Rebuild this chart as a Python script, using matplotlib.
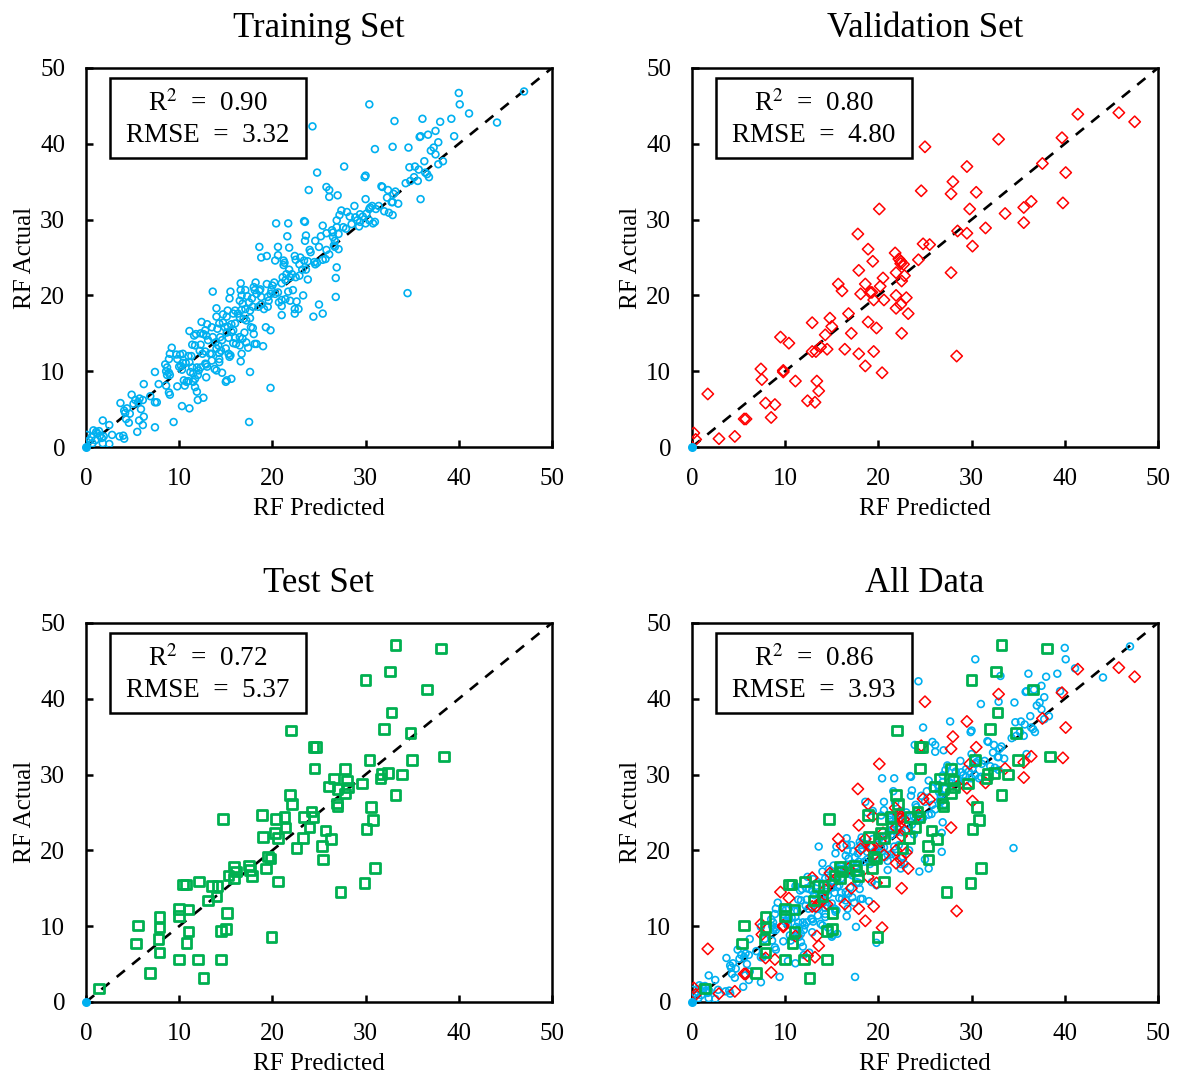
import matplotlib.pyplot as plt
from matplotlib.patches import Rectangle

plt.rcParams['font.family'] = ['Liberation Serif', 'DejaVu Serif']
plt.rcParams['mathtext.fontset'] = 'stix'

# ---- data (predicted, actual) ----
train_pred = [40.0, 40.1, 41.1, 39.2, 39.5, 47.0, 44.1, 30.4, 24.3, 33.1, 36.1, 38.0, 37.5, 36.7, 35.8, 35.9,
              37.8, 37.3, 37.0, 37.5, 38.3, 37.8, 36.3, 32.9, 34.6, 31.0, 27.7, 24.8, 34.7, 35.3, 35.7, 36.4,
              36.6, 36.8, 35.2, 35.6, 34.8, 34.3, 30.0, 29.9, 31.7, 31.8, 23.9, 25.8, 26.1, 26.1, 27.0, 32.4,
              33.2, 33.0, 35.9,
              32.3, 32.8, 33.5, 32.9, 30.0, 28.8, 31.4, 30.7, 30.5, 30.4, 31.1, 32.0, 32.5, 32.9, 27.4, 28.0,
              27.2, 26.9, 28.3, 28.9, 29.4, 29.7, 30.1, 29.1, 29.4, 28.5, 29.3, 30.0, 30.4, 30.8, 31.0, 27.6,
              27.9, 26.9, 26.5, 27.1, 25.4, 25.8, 26.4, 20.4, 21.7, 23.4, 23.5, 23.6, 23.5, 21.6, 24.6, 25.2,
              26.5, 26.7, 26.6, 27.1, 26.7, 25.8, 26.1, 25.0,
              18.6, 20.6, 19.4, 18.8, 20.6, 20.3, 21.8, 22.4, 22.5, 23.0, 22.9, 23.4, 23.8, 24.0, 24.1, 24.5,
              24.8, 24.6, 25.7, 25.4, 21.2, 21.3, 21.2, 21.8, 21.5, 21.1, 21.0, 21.4, 21.9, 22.1, 22.5, 22.9,
              23.8, 23.2, 23.6, 26.9, 26.8, 26.8, 23.3, 22.2, 21.7, 21.9, 22.6, 21.0, 20.7, 21.4, 20.0, 20.2,
              19.4, 19.9, 20.6, 20.3, 19.5, 19.8, 18.2, 18.0, 18.1, 18.6, 18.7, 18.3, 18.8, 17.8, 17.3, 17.5,
              17.1, 16.6, 16.6, 16.7, 17.1, 15.5, 15.4, 13.6, 21.0, 22.4, 22.8, 22.4, 25.0, 25.4, 24.4, 21.0,
              19.6, 19.5, 19.1, 18.5, 18.8, 17.9, 17.6, 16.5, 16.8, 16.7, 16.3, 16.0, 15.8, 15.2, 14.7, 15.1,
              14.0, 14.0, 14.3, 14.1, 13.5, 14.7, 14.9, 15.2, 15.6, 16.0, 15.8, 16.5, 16.9, 17.2, 17.6, 17.7,
              17.9, 18.0, 17.0, 16.8, 17.2, 17.4, 16.5, 19.3, 19.8, 19.0, 18.1, 18.3, 15.8, 16.1, 16.5, 16.0,
              15.3, 15.6, 15.1, 14.4, 14.6, 13.9, 14.2, 13.6, 13.1, 12.9, 12.6, 12.8, 12.3, 12.4, 13.0, 11.8,
              11.7, 11.1, 11.6, 12.3, 12.5, 12.8, 12.2, 13.5, 14.0, 14.5, 14.3, 15.0, 15.3, 15.4, 15.5, 14.3,
              14.3, 13.3, 13.5, 12.8, 12.9, 13.0, 12.3, 11.4, 11.3, 10.4, 10.1, 9.7, 9.8, 9.2, 9.0, 8.9,
              10.4, 10.7, 10.2, 10.0, 11.1, 11.0, 16.6, 16.7, 17.6, 19.8, 17.5,
              8.5, 8.7, 8.6, 8.9, 9.0, 8.7, 7.4, 7.8, 8.6, 9.8, 8.9, 9.0, 10.3, 11.2, 11.0, 11.5, 11.7, 12.0,
              12.1, 11.9, 11.4, 10.5, 10.8, 10.6, 11.5, 11.7, 11.9, 12.0, 11.1, 10.3, 12.6, 12.9, 14.6, 15.0,
              15.1, 15.6, 13.8, 14.0, 6.2, 4.9, 5.3, 5.75, 5.6, 6.1, 5.1, 3.7, 4.1, 4.4, 4.2, 4.7, 4.6, 4.3,
              5.9, 6.2, 5.7, 6.1, 6.9, 7.4, 7.6, 7.4, 5.5, 9.4, 4.0, 4.1, 3.6, 1.8, 2.5, 2.8,
              1.7, 1.5, 0.8, 1.1, 1.2, 0.6, 0.4, 1.0, 0.1, 0.0, 0.7, 2.5, 1.8, 1.9, 1.4, 34.5]
train_act = [46.7, 45.2, 44.0, 43.3, 41.0, 46.9, 42.8, 45.2, 42.3, 43.0, 43.3, 42.9, 41.7, 41.2, 40.9, 41.0,
             40.2, 39.5, 39.1, 38.6, 37.7, 37.3, 37.7, 39.6, 39.5, 39.3, 37.0, 36.2, 36.9, 37.0, 36.6, 36.2,
             36.0, 35.6, 35.6, 35.1, 35.1, 34.8, 35.8, 35.6, 34.4, 34.3, 33.9, 34.3, 33.9, 33.0, 33.2, 33.9,
             33.7, 33.4, 32.7,
             32.9, 32.3, 32.1, 32.3, 32.7, 31.8, 31.8, 31.8, 31.6, 31.4, 31.4, 31.1, 30.9, 30.6, 31.2, 31.0,
             30.6, 29.9, 30.4, 30.3, 30.7, 30.4, 30.8, 29.9, 29.7, 29.4, 29.1, 29.5, 29.9, 29.5, 29.7, 29.0,
             28.8, 29.0, 28.3, 28.1, 29.2, 28.2, 28.6, 29.5, 29.5, 29.8, 29.7, 27.9, 27.2, 27.8, 27.2, 27.8,
             27.7, 27.2, 26.6, 26.1, 26.4, 26.0, 25.4, 26.4,
             26.4, 26.4, 25.2, 25.0, 25.3, 24.6, 26.3, 25.2, 24.7, 25.0, 24.1, 24.6, 24.5, 26.0, 25.7, 24.4,
             24.3, 24.1, 24.8, 24.7, 24.6, 24.3, 24.0, 23.4, 22.8, 22.4, 21.6, 22.0, 22.4, 22.8, 22.4, 22.6,
             22.1, 23.4, 23.4, 23.7, 22.3, 19.8, 20.0, 20.7, 20.5, 19.3, 19.2, 19.4, 19.1, 19.5, 21.3, 21.7,
             21.5, 20.7, 20.4, 20.2, 19.8, 20.2, 21.7, 21.1, 20.7, 20.6, 20.8, 20.2, 19.8, 19.6, 19.9, 19.1,
             18.2, 21.6, 20.7, 20.0, 20.7, 20.5, 19.6, 20.5, 18.6, 18.2, 18.2, 17.6, 18.8, 17.6, 17.2, 17.4,
             19.3, 18.5, 18.2, 18.5, 18.8, 18.5, 18.0, 19.3, 18.9, 18.1, 17.6, 18.0, 17.6, 18.0, 17.5, 17.2,
             18.3, 17.2, 16.3, 15.6, 15.8, 16.4, 15.8, 15.9, 16.2, 16.3, 15.4, 17.1, 16.9, 16.7, 17.0, 15.8,
             15.7, 14.9, 15.1, 14.3, 13.8, 13.1, 14.5, 15.8, 15.4, 13.3, 13.6, 13.6, 13.7, 13.6, 13.4, 14.4,
             14.4, 15.2, 15.1, 14.5, 14.1, 13.8, 13.4, 14.5, 14.1, 14.7, 14.9, 15.4, 15.0, 16.5, 16.2, 14.9,
             13.4, 15.3, 14.7, 13.5, 12.3, 12.6, 12.7, 12.3, 13.0, 12.7, 12.4, 13.0, 12.3, 11.9, 12.1, 11.6,
             11.2, 12.3, 11.4, 11.0, 10.9, 10.6, 10.5, 13.5, 12.0, 12.3, 12.2, 12.2, 11.6, 13.1, 12.3, 11.6,
             11.1, 11.1, 10.7, 10.6, 11.2, 12.0, 11.3, 12.3, 9.9, 7.8, 3.3,
             10.9, 10.5, 10.0, 9.8, 9.5, 9.5, 9.9, 8.3, 8.1, 8.0, 7.2, 6.9, 10.2, 9.9, 8.7, 9.7, 9.0, 9.5,
             10.1, 10.5, 10.5, 8.8, 8.6, 8.1, 8.6, 7.9, 7.3, 6.2, 5.1, 5.4, 6.5, 9.2, 9.8, 8.6,
             8.8, 9.0, 10.3, 10.1, 8.3, 6.9, 6.2, 6.4, 5.9, 6.2, 5.7, 5.8, 4.8, 5.1, 4.5, 4.4, 3.2, 3.7,
             5.0, 4.0, 3.5, 2.9, 6.7, 5.9, 5.9, 2.6, 2.0, 3.3, 1.5, 1.1, 1.4, 3.5, 2.9, 1.6,
             1.2, 1.5, 2.2, 2.0, 1.8, 1.3, 0.9, 0.9, 1.6, 0.4, 0.5, 0.4, 0.5, 1.4, 2.1, 20.3]

val_pred = [0.2, 0.4, 2.9, 4.6, 1.7, 5.6, 5.8, 8.5, 7.9, 8.9, 7.4, 7.5, 9.5, 9.8, 9.8, 10.4, 11.1, 12.4,
            13.2, 13.4, 13.6, 12.9, 12.9, 13.3, 13.8, 14.5, 14.3, 14.8, 15.0, 15.7, 16.1, 16.8, 17.1, 16.4,
            17.9, 18.6, 17.8, 18.9, 19.4, 17.9, 18.6, 18.1, 19.1, 19.3, 19.5, 18.9, 19.8, 19.5, 20.4, 20.1,
            20.2, 20.5, 20.6, 21.8, 22.2, 22.4, 22.7, 22.4, 21.9, 22.8, 22.5, 21.9, 23.0, 21.9, 22.4, 23.2,
            22.5, 24.3, 24.8, 25.5, 24.6, 25.0, 27.8, 28.0, 28.5, 27.8, 28.4, 29.5, 29.8, 29.5, 30.1, 30.5,
            31.5, 32.9, 33.6, 35.6, 35.6, 36.4, 37.6, 39.7, 40.1, 39.8, 41.4, 45.8, 47.5]
val_act = [1.85, 1.0, 1.1, 1.4, 7.0, 3.7, 3.7, 3.9, 5.8, 5.6, 10.3, 8.9, 14.5, 10.1, 9.9, 13.7, 8.7, 6.1,
           5.9, 8.7, 7.4, 16.4, 12.6, 12.6, 13.2, 12.9, 14.8, 17.0, 15.9, 21.5, 20.6, 17.6, 15.0, 12.9,
           12.3, 10.7, 28.1, 26.1, 24.5, 23.3, 21.5, 20.2, 20.4, 20.4, 19.4, 16.5, 15.7, 12.6, 9.8, 31.4,
           21.2, 22.3, 19.4, 25.6, 24.8, 24.2, 24.1, 24.5, 23.0, 22.6, 21.9, 20.0, 19.7, 18.3, 18.8, 17.6,
           15.0, 24.7, 26.8, 26.7, 33.8, 39.6, 33.4, 35.0, 28.5, 23.0, 12.0, 37.0, 31.4, 28.2, 26.5, 33.6,
           28.9, 40.6, 30.8, 31.6, 29.6, 32.4, 37.4, 40.8, 36.2, 32.2, 43.9, 44.1, 42.9]

test_pred = [1.4, 5.6, 5.4, 6.9, 7.9, 7.9, 7.8, 7.9, 10.0, 10.0, 11.0, 11.0, 10.8, 10.0, 10.4, 10.7, 12.1,
             12.0, 12.6, 13.1, 13.5, 14.1, 14.0, 15.1, 14.5, 15.0, 14.5, 14.7, 15.3, 15.9, 16.1, 15.9, 17.5,
             17.6, 17.8, 18.9, 19.0, 19.5, 19.8, 19.3, 19.9, 20.6, 20.3, 20.6, 20.4, 21.3, 21.4, 21.9, 22.1,
             22.0, 22.6, 23.3, 23.4, 24.4, 24.2, 24.0, 24.4, 24.7, 24.5, 25.7, 25.3, 25.4, 26.3, 26.1, 26.6,
             27.0, 26.9, 27.0, 27.8, 28.0, 27.8, 28.1, 27.3, 29.6, 30.0, 30.4, 30.1, 30.6, 30.8, 29.9, 31.0,
             31.6, 31.7, 32.4, 32.0, 32.6, 33.2, 32.8, 33.2, 33.9, 34.8, 35.0, 36.6, 38.1, 38.4]
test_act = [1.8, 10.1, 7.7, 3.8, 11.2, 9.8, 8.3, 6.5, 12.3, 11.3, 12.2, 9.3, 7.8, 5.6, 15.5, 15.5, 15.9,
            5.6, 3.2, 13.4, 15.3, 15.3, 13.9, 11.7, 9.4, 9.6, 5.6, 24.1, 16.7, 17.8, 17.2, 16.3, 18.0,
            17.4, 16.6, 24.7, 21.8, 19.2, 18.9, 17.6, 8.6, 15.9, 22.3, 21.6, 24.1, 24.4, 23.0, 27.3, 26.1,
            35.8, 20.3, 21.6, 24.4, 24.4, 25.1, 23.0, 33.6, 33.6, 30.8, 22.6, 20.6, 18.8, 21.5, 28.4, 29.5,
            28.1, 26.2, 25.8, 30.7, 29.2, 27.5, 28.3, 14.5, 28.8, 42.5, 31.9, 22.8, 25.7, 24.0, 15.7, 17.7,
            29.5, 30.1, 30.2, 36.0, 43.6, 47.1, 38.2, 27.3, 30.0, 35.5, 31.9, 41.2, 46.6, 32.4]

titles = ['Training Set', 'Validation Set', 'Test Set', 'All Data']
r2_vals = ['0.90', '0.80', '0.72', '0.86']
rmse_vals = ['3.32', '4.80', '5.37', '3.93']

blue = '#00B0F0'
red = '#FF0000'
green = '#00B050'

fig = plt.figure(figsize=(11.81, 10.79), dpi=100)
w, h = 0.3946, 0.3513
positions = [(0.0728, 0.5857), (0.5859, 0.5857), (0.0728, 0.0714), (0.5859, 0.0714)]


def draw_train(ax):
    ax.scatter(train_pred, train_act, s=24, facecolors='none', edgecolors=blue, linewidths=1.2, zorder=3)


def draw_val(ax):
    ax.scatter(val_pred, val_act, s=34, marker='D', facecolors='none', edgecolors=red, linewidths=1.1, zorder=3)


def draw_test(ax):
    ax.scatter(test_pred, test_act, s=48, marker='s', facecolors='none', edgecolors=green, linewidths=2.0, zorder=4)


for i, (pos, title) in enumerate(zip(positions, titles)):
    ax = fig.add_axes([pos[0], pos[1], w, h])
    ax.plot([0, 50], [0, 50], color='black', linestyle=(0, (4, 3.5)), linewidth=1.9, zorder=2)
    if i == 0:
        draw_train(ax)
    elif i == 1:
        draw_val(ax)
    elif i == 2:
        draw_test(ax)
    else:
        draw_train(ax)
        draw_val(ax)
        draw_test(ax)
    # small filled dot sitting on the origin
    ax.scatter([0], [0], s=30, color=blue, zorder=5, clip_on=False)

    ax.set_xlim(0, 50)
    ax.set_ylim(0, 50)
    ax.set_xticks([0, 10, 20, 30, 40, 50])
    ax.set_yticks([0, 10, 20, 30, 40, 50])
    ax.tick_params(direction='in', length=5, width=1.8, labelsize=18, pad=15)
    for sp in ax.spines.values():
        sp.set_linewidth(1.8)
    ax.set_xlabel('RF Predicted', fontsize=18, labelpad=6)
    ax.set_ylabel('RF Actual', fontsize=18, labelpad=3)
    ax.set_title(title, fontsize=25, pad=22)

    ax.add_patch(Rectangle((0.0515, 0.7625), 0.4205, 0.211, transform=ax.transAxes,
                           fill=True, facecolor='white', edgecolor='black', linewidth=1.8, zorder=6))
    ax.text(0.262, 0.905, 'R$^2$  =  ' + r2_vals[i], transform=ax.transAxes,
            ha='center', va='center', fontsize=19.5, zorder=7)
    ax.text(0.262, 0.822, 'RMSE  =  ' + rmse_vals[i], transform=ax.transAxes,
            ha='center', va='center', fontsize=19.5, zorder=7)

plt.savefig('out.png', dpi=100)
